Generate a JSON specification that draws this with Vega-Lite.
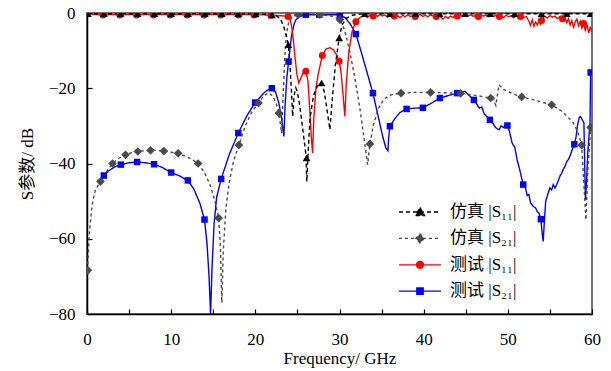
{
  "$schema": "https://vega.github.io/schema/vega-lite/v6.json",
  "width": 505,
  "height": 301,
  "autosize": {"type": "none"},
  "padding": {"left": 87, "top": 13, "right": 19, "bottom": 57},
  "background": "white",
  "config": {
    "view": {"stroke": "#707070", "strokeWidth": 2},
    "axis": {"labelFont": "Liberation Serif", "labelFontSize": 17, "labelColor": "black", "labelFlush": false, "titleFont": "'Liberation Serif', 'Noto Sans CJK SC', serif", "titleFontSize": 17, "titleFontWeight": "normal", "titleColor": "black", "domainColor": "black", "domainWidth": 1.5, "tickColor": "black", "tickWidth": 1.2, "tickSize": -5, "grid": false}
  },
  "datasets": {
    "lines": [
      {"s":"d","f":1.55,"db":-45.0},{"s":"d","f":2.0,"db":-43.2},{"s":"d","f":2.6,"db":-41.9},{"s":"d","f":3.3,"db":-40.9},{"s":"d","f":4.02,"db":-40.3},{"s":"d","f":5.0,"db":-39.8},{"s":"d","f":5.95,"db":-39.6},{"s":"d","f":7.0,"db":-39.8},{"s":"d","f":7.97,"db":-40.2},{"s":"d","f":9.0,"db":-41.1},{"s":"d","f":10.0,"db":-42.4},{"s":"d","f":11.0,"db":-43.3},{"s":"d","f":11.98,"db":-44.5},{"s":"d","f":12.7,"db":-46.8},{"s":"d","f":13.4,"db":-50.5},{"s":"d","f":13.96,"db":-54.9},{"s":"d","f":14.25,"db":-61},{"s":"d","f":14.5,"db":-70},{"s":"d","f":14.68,"db":-80},{"s":"d","f":14.85,"db":-68},{"s":"d","f":15.1,"db":-56},{"s":"d","f":15.4,"db":-49},{"s":"d","f":15.94,"db":-44.1},{"s":"d","f":16.9,"db":-37.6},{"s":"d","f":17.98,"db":-31.9},{"s":"d","f":19.0,"db":-27.3},{"s":"d","f":19.98,"db":-23.8},{"s":"d","f":21.0,"db":-21.3},{"s":"d","f":21.5,"db":-20.4},{"s":"d","f":21.96,"db":-20.0},{"s":"d","f":22.4,"db":-21},{"s":"d","f":22.8,"db":-24},{"s":"d","f":23.15,"db":-28.5},{"s":"d","f":23.39,"db":-32.8},{"s":"d","f":23.55,"db":-24},{"s":"d","f":23.75,"db":-17},{"s":"d","f":23.95,"db":-12.9},{"s":"d","f":24.3,"db":-6},{"s":"d","f":24.6,"db":-3},{"s":"d","f":24.82,"db":-1.8},{"s":"d","f":25.3,"db":-0.9},{"s":"d","f":26.0,"db":-0.45},{"s":"d","f":27.59,"db":-0.45},{"s":"d","f":29.0,"db":-0.45},{"s":"d","f":30.05,"db":-0.5},{"s":"d","f":30.7,"db":-1.3},{"s":"d","f":31.3,"db":-3},{"s":"d","f":31.95,"db":-5.6},{"s":"d","f":32.6,"db":-10.5},{"s":"d","f":33.3,"db":-16},{"s":"d","f":33.97,"db":-21.3},{"s":"d","f":34.6,"db":-27.5},{"s":"d","f":35.1,"db":-32.5},{"s":"d","f":35.5,"db":-35.8},{"s":"d","f":35.75,"db":-36.6},{"s":"d","f":35.85,"db":-33},{"s":"d","f":35.99,"db":-30.1},{"s":"d","f":36.6,"db":-28},{"s":"d","f":37.2,"db":-26.4},{"s":"d","f":37.97,"db":-25.5},{"s":"d","f":38.9,"db":-25.3},{"s":"d","f":39.91,"db":-25.2},{"s":"d","f":40.9,"db":-24},{"s":"d","f":41.93,"db":-22.6},{"s":"d","f":43.0,"db":-21.9},{"s":"d","f":43.99,"db":-21.3},{"s":"d","f":44.5,"db":-21.0},{"s":"d","f":44.9,"db":-20.8},{"s":"d","f":45.3,"db":-21.7},{"s":"d","f":45.97,"db":-23.1},{"s":"d","f":46.3,"db":-24.2},{"s":"d","f":46.6,"db":-25.3},{"s":"d","f":46.9,"db":-25.0},{"s":"d","f":47.2,"db":-26.8},{"s":"d","f":47.5,"db":-27.5},{"s":"d","f":47.87,"db":-28.4},{"s":"d","f":48.2,"db":-29.2},{"s":"d","f":48.5,"db":-30.3},{"s":"d","f":48.75,"db":-30.8},{"s":"d","f":48.98,"db":-31.0},{"s":"d","f":49.2,"db":-30.0},{"s":"d","f":49.5,"db":-30.4},{"s":"d","f":49.7,"db":-29.8},{"s":"d","f":49.95,"db":-29.9},{"s":"d","f":50.2,"db":-31.5},{"s":"d","f":50.5,"db":-34.5},{"s":"d","f":50.84,"db":-35.8},{"s":"d","f":51.1,"db":-39},{"s":"d","f":51.4,"db":-41.5},{"s":"d","f":51.6,"db":-43.5},{"s":"d","f":51.83,"db":-45.6},{"s":"d","f":52.1,"db":-46.5},{"s":"d","f":52.3,"db":-48.5},{"s":"d","f":52.5,"db":-48.2},{"s":"d","f":52.7,"db":-50.5},{"s":"d","f":53.02,"db":-51.4},{"s":"d","f":53.3,"db":-51.8},{"s":"d","f":53.5,"db":-52.8},{"s":"d","f":53.7,"db":-53.2},{"s":"d","f":53.93,"db":-54.8},{"s":"d","f":54.05,"db":-58},{"s":"d","f":54.2,"db":-60.7},{"s":"d","f":54.35,"db":-55},{"s":"d","f":54.5,"db":-50},{"s":"d","f":54.8,"db":-47.8},{"s":"d","f":55.0,"db":-46.5},{"s":"d","f":55.2,"db":-47.0},{"s":"d","f":55.4,"db":-45.6},{"s":"d","f":55.6,"db":-46.5},{"s":"d","f":55.8,"db":-45.6},{"s":"d","f":56.0,"db":-44.5},{"s":"d","f":56.2,"db":-43.3},{"s":"d","f":56.4,"db":-42.6},{"s":"d","f":56.6,"db":-41.5},{"s":"d","f":56.78,"db":-40.8},{"s":"d","f":57.0,"db":-39.5},{"s":"d","f":57.2,"db":-38.9},{"s":"d","f":57.38,"db":-38.1},{"s":"d","f":57.6,"db":-36.6},{"s":"d","f":57.9,"db":-34.9},{"s":"d","f":58.1,"db":-33},{"s":"d","f":58.3,"db":-29.5},{"s":"d","f":58.5,"db":-27.7},{"s":"d","f":58.63,"db":-27.5},{"s":"d","f":58.85,"db":-28.4},{"s":"d","f":59.04,"db":-29.2},{"s":"d","f":59.13,"db":-40},{"s":"d","f":59.22,"db":-49.6},{"s":"d","f":59.35,"db":-45},{"s":"d","f":59.5,"db":-37},{"s":"d","f":59.7,"db":-31},{"s":"d","f":59.76,"db":-30.1},{"s":"d","f":59.8,"db":-22},{"s":"d","f":59.84,"db":-15.8},

      {"s":"c","f":0,"db":-0.3},{"s":"c","f":1.0,"db":-0.4},{"s":"c","f":1.9,"db":-0.5},{"s":"c","f":3.0,"db":-0.4},{"s":"c","f":3.9,"db":-0.5},{"s":"c","f":5.0,"db":-0.4},{"s":"c","f":5.9,"db":-0.5},{"s":"c","f":7.0,"db":-0.4},{"s":"c","f":7.9,"db":-0.5},{"s":"c","f":9.0,"db":-0.4},{"s":"c","f":9.9,"db":-0.5},{"s":"c","f":11.0,"db":-0.4},{"s":"c","f":11.9,"db":-0.5},{"s":"c","f":13.0,"db":-0.4},{"s":"c","f":13.9,"db":-0.5},{"s":"c","f":15.0,"db":-0.4},{"s":"c","f":15.9,"db":-0.5},{"s":"c","f":17.0,"db":-0.4},{"s":"c","f":18.0,"db":-0.5},{"s":"c","f":19.0,"db":-0.4},{"s":"c","f":19.85,"db":-0.5},{"s":"c","f":21.0,"db":-0.5},{"s":"c","f":21.85,"db":-0.6},{"s":"c","f":22.8,"db":-0.7},{"s":"c","f":23.5,"db":-0.8},{"s":"c","f":23.9,"db":-0.9},{"s":"c","f":24.15,"db":-1.8},{"s":"c","f":24.35,"db":-4},{"s":"c","f":24.55,"db":-8},{"s":"c","f":24.75,"db":-12.5},{"s":"c","f":24.95,"db":-16.5},{"s":"c","f":25.17,"db":-18.6},{"s":"c","f":25.4,"db":-17.4},{"s":"c","f":25.7,"db":-15.8},{"s":"c","f":26.0,"db":-15.5},{"s":"c","f":26.25,"db":-18},{"s":"c","f":26.45,"db":-25},{"s":"c","f":26.65,"db":-33},{"s":"c","f":26.8,"db":-37.2},{"s":"c","f":26.95,"db":-28},{"s":"c","f":27.2,"db":-20},{"s":"c","f":27.47,"db":-16.2},{"s":"c","f":27.96,"db":-11.3},{"s":"c","f":28.4,"db":-9.6},{"s":"c","f":28.86,"db":-9.2},{"s":"c","f":29.3,"db":-9.8},{"s":"c","f":29.7,"db":-11.3},{"s":"c","f":29.96,"db":-12.8},{"s":"c","f":30.2,"db":-16},{"s":"c","f":30.45,"db":-22.5},{"s":"c","f":30.64,"db":-27.5},{"s":"c","f":30.8,"db":-19},{"s":"c","f":31.1,"db":-10.5},{"s":"c","f":31.5,"db":-4.8},{"s":"c","f":31.95,"db":-2.3},{"s":"c","f":32.5,"db":-1.1},{"s":"c","f":33.0,"db":-0.7},{"s":"c","f":33.3,"db":-1.2},{"s":"c","f":33.6,"db":-0.6},{"s":"c","f":33.9,"db":-1.0},{"s":"c","f":34.2,"db":-0.5},{"s":"c","f":34.5,"db":-0.9},{"s":"c","f":34.8,"db":-0.4},{"s":"c","f":35.1,"db":-0.8},{"s":"c","f":35.4,"db":-0.5},{"s":"c","f":35.7,"db":-1.1},{"s":"c","f":36.0,"db":-0.6},{"s":"c","f":36.3,"db":-0.9},{"s":"c","f":36.6,"db":-1.4},{"s":"c","f":36.9,"db":-0.7},{"s":"c","f":37.2,"db":-1.2},{"s":"c","f":37.5,"db":-0.6},{"s":"c","f":37.8,"db":-1.0},{"s":"c","f":38.1,"db":-0.5},{"s":"c","f":38.4,"db":-0.9},{"s":"c","f":38.7,"db":-0.6},{"s":"c","f":39.0,"db":-1.1},{"s":"c","f":39.3,"db":-0.7},{"s":"c","f":39.6,"db":-0.4},{"s":"c","f":39.9,"db":-0.9},{"s":"c","f":40.2,"db":-0.6},{"s":"c","f":40.5,"db":-1.0},{"s":"c","f":40.8,"db":-0.5},{"s":"c","f":41.1,"db":-0.8},{"s":"c","f":41.4,"db":-1.3},{"s":"c","f":41.7,"db":-0.7},{"s":"c","f":42.0,"db":-1.1},{"s":"c","f":42.3,"db":-1.6},{"s":"c","f":42.6,"db":-0.9},{"s":"c","f":42.9,"db":-1.4},{"s":"c","f":43.2,"db":-0.8},{"s":"c","f":43.5,"db":-1.2},{"s":"c","f":43.8,"db":-0.6},{"s":"c","f":44.1,"db":-1.0},{"s":"c","f":44.4,"db":-0.5},{"s":"c","f":44.7,"db":-0.8},{"s":"c","f":45.0,"db":-0.4},{"s":"c","f":45.3,"db":-0.7},{"s":"c","f":45.6,"db":-0.5},{"s":"c","f":45.9,"db":-0.9},{"s":"c","f":46.2,"db":-0.6},{"s":"c","f":46.5,"db":-1.0},{"s":"c","f":46.8,"db":-0.5},{"s":"c","f":47.1,"db":-0.8},{"s":"c","f":47.4,"db":-0.6},{"s":"c","f":47.7,"db":-1.0},{"s":"c","f":48.0,"db":-0.5},{"s":"c","f":48.3,"db":-0.9},{"s":"c","f":48.6,"db":-0.6},{"s":"c","f":48.9,"db":-1.1},{"s":"c","f":49.2,"db":-0.7},{"s":"c","f":49.5,"db":-1.2},{"s":"c","f":49.8,"db":-0.6},{"s":"c","f":50.1,"db":-1.0},{"s":"c","f":50.4,"db":-0.7},{"s":"c","f":50.7,"db":-1.3},{"s":"c","f":51.0,"db":-0.8},{"s":"c","f":51.3,"db":-1.1},{"s":"c","f":51.6,"db":-0.7},{"s":"c","f":51.9,"db":-1.2},{"s":"c","f":52.2,"db":-0.9},{"s":"c","f":52.5,"db":-2.2},{"s":"c","f":52.7,"db":-3.3},{"s":"c","f":52.9,"db":-1.8},{"s":"c","f":53.1,"db":-3.5},{"s":"c","f":53.3,"db":-2.4},{"s":"c","f":53.5,"db":-3.2},{"s":"c","f":53.7,"db":-2.0},{"s":"c","f":53.9,"db":-3.0},{"s":"c","f":54.1,"db":-1.4},{"s":"c","f":54.4,"db":-0.9},{"s":"c","f":54.7,"db":-1.3},{"s":"c","f":55.0,"db":-0.7},{"s":"c","f":55.3,"db":-1.1},{"s":"c","f":55.6,"db":-0.8},{"s":"c","f":55.9,"db":-1.5},{"s":"c","f":56.2,"db":-0.9},{"s":"c","f":56.5,"db":-1.8},{"s":"c","f":56.8,"db":-1.2},{"s":"c","f":57.0,"db":-2.6},{"s":"c","f":57.2,"db":-1.5},{"s":"c","f":57.4,"db":-3.2},{"s":"c","f":57.6,"db":-2.0},{"s":"c","f":57.8,"db":-3.8},{"s":"c","f":58.0,"db":-2.4},{"s":"c","f":58.2,"db":-1.6},{"s":"c","f":58.4,"db":-3.4},{"s":"c","f":58.6,"db":-2.2},{"s":"c","f":58.8,"db":-4.0},{"s":"c","f":59.0,"db":-2.8},{"s":"c","f":59.2,"db":-4.6},{"s":"c","f":59.4,"db":-3.0},{"s":"c","f":59.6,"db":-5.3},{"s":"c","f":59.8,"db":-3.6},{"s":"c","f":59.95,"db":-5.0},

      {"s":"b","f":0.05,"db":-68.4},{"s":"b","f":0.3,"db":-58},{"s":"b","f":0.6,"db":-51},{"s":"b","f":1.0,"db":-47},{"s":"b","f":1.6,"db":-44.8},{"s":"b","f":2.3,"db":-42.2},{"s":"b","f":3.03,"db":-40.0},{"s":"b","f":3.8,"db":-38.6},{"s":"b","f":4.58,"db":-37.7},{"s":"b","f":5.3,"db":-37.1},{"s":"b","f":6.04,"db":-36.8},{"s":"b","f":6.8,"db":-36.6},{"s":"b","f":7.55,"db":-36.5},{"s":"b","f":8.3,"db":-36.5},{"s":"b","f":9.13,"db":-36.7},{"s":"b","f":10.0,"db":-37.0},{"s":"b","f":10.83,"db":-37.3},{"s":"b","f":11.6,"db":-38.0},{"s":"b","f":12.4,"db":-38.8},{"s":"b","f":13.2,"db":-40.0},{"s":"b","f":13.9,"db":-42.2},{"s":"b","f":14.6,"db":-45.5},{"s":"b","f":15.2,"db":-50},{"s":"b","f":15.64,"db":-54.5},{"s":"b","f":15.85,"db":-62},{"s":"b","f":16.02,"db":-77},{"s":"b","f":16.2,"db":-63},{"s":"b","f":16.5,"db":-52},{"s":"b","f":16.9,"db":-45},{"s":"b","f":17.4,"db":-39.5},{"s":"b","f":18.05,"db":-35.1},{"s":"b","f":18.8,"db":-30},{"s":"b","f":19.6,"db":-26.2},{"s":"b","f":20.38,"db":-23.9},{"s":"b","f":21.0,"db":-22.0},{"s":"b","f":21.6,"db":-21.2},{"s":"b","f":22.1,"db":-22.2},{"s":"b","f":22.5,"db":-24.2},{"s":"b","f":22.8,"db":-26.6},{"s":"b","f":23.12,"db":-31.9},{"s":"b","f":23.3,"db":-22},{"s":"b","f":23.5,"db":-12},{"s":"b","f":23.7,"db":-5.5},{"s":"b","f":24.0,"db":-2.0},{"s":"b","f":24.5,"db":-0.8},{"s":"b","f":25.09,"db":-0.45},{"s":"b","f":26.5,"db":-0.4},{"s":"b","f":27.67,"db":-0.45},{"s":"b","f":29.0,"db":-0.8},{"s":"b","f":29.6,"db":-1.3},{"s":"b","f":30.05,"db":-1.8},{"s":"b","f":30.6,"db":-4.5},{"s":"b","f":31.2,"db":-10},{"s":"b","f":31.8,"db":-17},{"s":"b","f":32.4,"db":-25},{"s":"b","f":32.9,"db":-33},{"s":"b","f":33.34,"db":-40.3},{"s":"b","f":33.61,"db":-34.8},{"s":"b","f":34.0,"db":-30},{"s":"b","f":34.6,"db":-25.5},{"s":"b","f":35.3,"db":-22.8},{"s":"b","f":36.2,"db":-21.7},{"s":"b","f":37.31,"db":-21.3},{"s":"b","f":39.0,"db":-21.1},{"s":"b","f":40.82,"db":-21.1},{"s":"b","f":42.6,"db":-21.2},{"s":"b","f":44.39,"db":-21.4},{"s":"b","f":46.2,"db":-21.9},{"s":"b","f":47.96,"db":-22.6},{"s":"b","f":48.3,"db":-23.2},{"s":"b","f":48.58,"db":-24.6},{"s":"b","f":48.94,"db":-19.1},{"s":"b","f":49.5,"db":-20.3},{"s":"b","f":50.5,"db":-21.4},{"s":"b","f":51.64,"db":-22.3},{"s":"b","f":53.4,"db":-23.3},{"s":"b","f":55.21,"db":-24.4},{"s":"b","f":56.5,"db":-26.2},{"s":"b","f":57.77,"db":-29.2},{"s":"b","f":58.3,"db":-31.5},{"s":"b","f":58.77,"db":-35.1},{"s":"b","f":59.0,"db":-44},{"s":"b","f":59.28,"db":-55},{"s":"b","f":59.5,"db":-42},{"s":"b","f":59.84,"db":-30.4},

      {"s":"a","f":0,"db":-0.2},{"s":"a","f":4,"db":-0.2},{"s":"a","f":8,"db":-0.2},{"s":"a","f":12,"db":-0.2},{"s":"a","f":16,"db":-0.2},{"s":"a","f":20,"db":-0.25},{"s":"a","f":21.5,"db":-0.35},{"s":"a","f":22.5,"db":-0.7},{"s":"a","f":23.0,"db":-1.6},{"s":"a","f":23.4,"db":-3.8},{"s":"a","f":23.7,"db":-6.2},{"s":"a","f":23.92,"db":-8.4},{"s":"a","f":24.1,"db":-13},{"s":"a","f":24.3,"db":-21},{"s":"a","f":24.44,"db":-27.5},{"s":"a","f":24.6,"db":-22},{"s":"a","f":24.81,"db":-19.9},{"s":"a","f":25.0,"db":-21},{"s":"a","f":25.3,"db":-25},{"s":"a","f":25.7,"db":-32},{"s":"a","f":26.0,"db":-37.5},{"s":"a","f":26.12,"db":-44.8},{"s":"a","f":26.25,"db":-38},{"s":"a","f":26.5,"db":-28},{"s":"a","f":26.9,"db":-22},{"s":"a","f":27.4,"db":-19.3},{"s":"a","f":27.87,"db":-18.6},{"s":"a","f":28.2,"db":-21},{"s":"a","f":28.5,"db":-25.5},{"s":"a","f":28.86,"db":-31.0},{"s":"a","f":29.1,"db":-24},{"s":"a","f":29.5,"db":-14},{"s":"a","f":29.96,"db":-6.6},{"s":"a","f":30.3,"db":-3.2},{"s":"a","f":30.8,"db":-1.4},{"s":"a","f":31.5,"db":-0.6},{"s":"a","f":32.5,"db":-0.3},{"s":"a","f":34,"db":-0.2},{"s":"a","f":40,"db":-0.2},{"s":"a","f":50,"db":-0.2},{"s":"a","f":60,"db":-0.2}
    ],
    "marks": [
      {"s":"d","f":2.0,"db":-43.2},{"s":"d","f":4.02,"db":-40.3},{"s":"d","f":5.95,"db":-39.6},{"s":"d","f":7.97,"db":-40.2},{"s":"d","f":10.0,"db":-42.4},{"s":"d","f":11.98,"db":-44.5},{"s":"d","f":13.96,"db":-54.9},{"s":"d","f":15.94,"db":-44.1},{"s":"d","f":17.98,"db":-31.9},{"s":"d","f":19.98,"db":-23.8},{"s":"d","f":21.96,"db":-20.0},{"s":"d","f":23.95,"db":-12.9},{"s":"d","f":26.0,"db":-0.45},{"s":"d","f":27.59,"db":-0.45},{"s":"d","f":30.05,"db":-0.5},{"s":"d","f":31.95,"db":-5.6},{"s":"d","f":33.97,"db":-21.3},{"s":"d","f":35.99,"db":-30.1},{"s":"d","f":37.97,"db":-25.5},{"s":"d","f":39.91,"db":-25.2},{"s":"d","f":41.93,"db":-22.6},{"s":"d","f":43.99,"db":-21.3},{"s":"d","f":45.97,"db":-23.1},{"s":"d","f":47.87,"db":-28.4},{"s":"d","f":49.95,"db":-29.9},{"s":"d","f":51.83,"db":-45.6},{"s":"d","f":53.93,"db":-54.8},{"s":"d","f":57.9,"db":-34.9},{"s":"d","f":59.84,"db":-15.8},
      {"s":"c","f":1.9,"db":-0.5},{"s":"c","f":3.9,"db":-0.5},{"s":"c","f":5.9,"db":-0.5},{"s":"c","f":7.9,"db":-0.5},{"s":"c","f":9.9,"db":-0.5},{"s":"c","f":11.9,"db":-0.5},{"s":"c","f":13.9,"db":-0.5},{"s":"c","f":15.9,"db":-0.5},{"s":"c","f":18.0,"db":-0.5},{"s":"c","f":19.85,"db":-0.5},{"s":"c","f":21.85,"db":-0.6},{"s":"c","f":23.9,"db":-0.9},{"s":"c","f":26.0,"db":-15.5},{"s":"c","f":27.96,"db":-11.3},{"s":"c","f":29.96,"db":-12.8},{"s":"c","f":31.95,"db":-2.3},{"s":"c","f":34.0,"db":-0.8},{"s":"c","f":36.5,"db":-0.8},{"s":"c","f":39.0,"db":-0.9},{"s":"c","f":41.5,"db":-0.9},{"s":"c","f":44.0,"db":-0.8},{"s":"c","f":46.5,"db":-0.9},{"s":"c","f":49.0,"db":-0.9},{"s":"c","f":51.5,"db":-0.9},{"s":"c","f":54.0,"db":-2.0},{"s":"c","f":56.5,"db":-1.5},{"s":"c","f":59.0,"db":-2.8},
      {"s":"b","f":0.1,"db":-68.4},{"s":"b","f":1.6,"db":-44.8},{"s":"b","f":3.03,"db":-40.0},{"s":"b","f":4.58,"db":-37.7},{"s":"b","f":6.04,"db":-36.8},{"s":"b","f":7.55,"db":-36.5},{"s":"b","f":9.13,"db":-36.7},{"s":"b","f":10.83,"db":-37.3},{"s":"b","f":13.2,"db":-40.0},{"s":"b","f":15.64,"db":-54.5},{"s":"b","f":18.05,"db":-35.1},{"s":"b","f":20.38,"db":-23.9},{"s":"b","f":22.8,"db":-26.6},{"s":"b","f":25.09,"db":-0.45},{"s":"b","f":27.67,"db":-0.45},{"s":"b","f":30.05,"db":-1.8},{"s":"b","f":33.61,"db":-34.8},{"s":"b","f":37.31,"db":-21.3},{"s":"b","f":40.82,"db":-21.1},{"s":"b","f":44.39,"db":-21.4},{"s":"b","f":47.96,"db":-22.6},{"s":"b","f":51.64,"db":-22.3},{"s":"b","f":55.21,"db":-24.4},{"s":"b","f":58.77,"db":-35.1},{"s":"b","f":59.84,"db":-30.4},
      {"s":"a","f":0.1,"db":-0.2},{"s":"a","f":2.0,"db":-0.2},{"s":"a","f":4.0,"db":-0.2},{"s":"a","f":6.0,"db":-0.2},{"s":"a","f":8.0,"db":-0.2},{"s":"a","f":10.0,"db":-0.2},{"s":"a","f":12.0,"db":-0.2},{"s":"a","f":14.0,"db":-0.2},{"s":"a","f":16.0,"db":-0.2},{"s":"a","f":17.96,"db":-0.2},{"s":"a","f":20.05,"db":-0.25},{"s":"a","f":21.97,"db":-0.5},{"s":"a","f":23.92,"db":-8.4},{"s":"a","f":26.09,"db":-38.5},{"s":"a","f":27.87,"db":-18.6},{"s":"a","f":29.96,"db":-6.6},{"s":"a","f":33.0,"db":-0.2},{"s":"a","f":36.0,"db":-0.2},{"s":"a","f":39.0,"db":-0.2},{"s":"a","f":41.9,"db":-0.2},{"s":"a","f":44.9,"db":-0.2},{"s":"a","f":47.9,"db":-0.2},{"s":"a","f":50.8,"db":-0.2},{"s":"a","f":54.0,"db":-0.2},{"s":"a","f":57.0,"db":-0.2},{"s":"a","f":59.84,"db":-0.2}
    ]
  },
  "layer": [
    {
      "data": {"name": "lines"},
      "mark": {"type": "line", "strokeWidth": 1.4, "clip": true},
      "encoding": {
        "x": {"field": "f", "type": "quantitative", "scale": {"domain": [0, 60], "nice": false, "zero": false},
          "axis": {"values": [0,5,10,15,20,25,30,35,40,45,50,55,60], "labelExpr": "datum.value % 10 === 0 ? datum.label : ''", "title": "Frequency/ GHz", "labelPadding": 22, "titlePadding": 3}},
        "y": {"field": "db", "type": "quantitative", "scale": {"domain": [-80, 0], "nice": false, "zero": false},
          "axis": {"values": [-80,-70,-60,-50,-40,-30,-20,-10,0], "labelExpr": "datum.value % 20 === 0 ? datum.label : ''", "title": "S参数/ dB", "labelPadding": 17, "titlePadding": 12}},
        "color": {"field": "s", "type": "nominal",
          "scale": {"domain": ["a","b","c","d"], "range": ["#000000","#4a4a4a","#ff0000","#0000ff"]},
          "legend": {
            "orient": "none", "legendX": 322, "legendY": 188, "title": null, "padding": 0,
            "symbolSize": 400, "labelOffset": 19, "rowPadding": 7.4,
            "labelFont": "'Liberation Serif', 'Noto Sans CJK SC', serif", "labelFontSize": 17, "labelColor": "black",
            "labelExpr": "datum.value === 'a' ? '仿真 |S₁₁|' : datum.value === 'b' ? '仿真 |S₂₁|' : datum.value === 'c' ? '测试 |S₁₁|' : '测试 |S₂₁|'",
            "encode": {"symbols": {"update": {
              "shape": {"signal": "datum.value === 'a' ? 'M-2.1,0H2.1M0,-0.45L0.45,0.35L-0.45,0.35Z' : datum.value === 'b' ? 'M-2.1,0H2.1M0,-0.45L0.42,0L0,0.45L-0.42,0Z' : datum.value === 'c' ? 'M-2.1,0H2.1M0.35,0A0.35,0.35 0 1,1 -0.35,0A0.35,0.35 0 1,1 0.35,0Z' : 'M-2.1,0H2.1M-0.32,-0.32H0.32V0.32H-0.32Z'"},
              "fill": {"signal": "scale('color', datum.value)"},
              "stroke": {"signal": "scale('color', datum.value)"},
              "strokeDash": {"signal": "datum.value === 'a' ? [4,3] : datum.value === 'b' ? [3,3] : [1,0]"},
              "strokeWidth": {"value": 1.3},
              "opacity": {"value": 1},
              "fillOpacity": {"value": 1}
            }}}
          }},
        "strokeDash": {"field": "s", "type": "nominal", "scale": {"domain": ["a","b","c","d"], "range": [[4,3],[3,3],[1,0],[1,0]]}, "legend": null}
      }
    },
    {
      "data": {"name": "marks"},
      "transform": [{"filter": "datum.s === 'd'"}],
      "mark": {"type": "point", "filled": true, "opacity": 1, "shape": "square", "size": 42, "color": "#0000ff", "clip": true},
      "encoding": {"x": {"field": "f", "type": "quantitative"}, "y": {"field": "db", "type": "quantitative"}}
    },
    {
      "data": {"name": "marks"},
      "transform": [{"filter": "datum.s === 'c'"}],
      "mark": {"type": "point", "filled": true, "opacity": 1, "shape": "circle", "size": 49, "color": "#ff0000", "clip": true},
      "encoding": {"x": {"field": "f", "type": "quantitative"}, "y": {"field": "db", "type": "quantitative"}}
    },
    {
      "data": {"name": "marks"},
      "transform": [{"filter": "datum.s === 'b'"}],
      "mark": {"type": "point", "filled": true, "opacity": 1, "shape": "diamond", "size": 75, "color": "#4a4a4a", "clip": true},
      "encoding": {"x": {"field": "f", "type": "quantitative"}, "y": {"field": "db", "type": "quantitative"}}
    },
    {
      "data": {"name": "marks"},
      "transform": [{"filter": "datum.s === 'a'"}],
      "mark": {"type": "point", "filled": true, "opacity": 1, "shape": "triangle-up", "size": 60, "color": "#000000", "clip": true},
      "encoding": {"x": {"field": "f", "type": "quantitative"}, "y": {"field": "db", "type": "quantitative"}}
    }
  ]
}
